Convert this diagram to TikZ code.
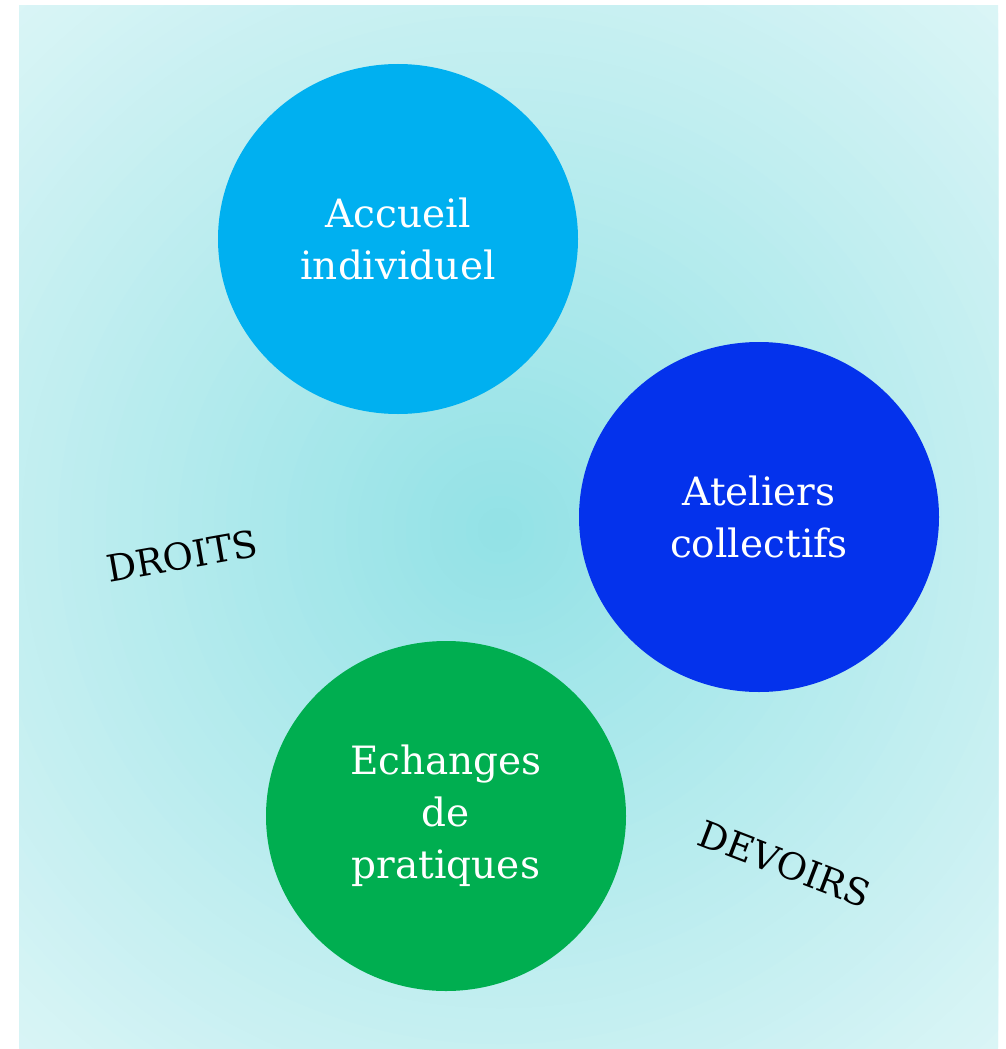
\documentclass[tikz,border=0pt]{standalone}
\usepackage{fontspec}
\setmainfont{DejaVu Serif}
\usetikzlibrary{shapes.geometric}

\definecolor{bginner}{HTML}{93E2E6}
\definecolor{bgouter}{HTML}{DBF5F6}
\definecolor{accueilblue}{HTML}{00B0F0}
\definecolor{atelierblue}{HTML}{0432EC}
\definecolor{echangegreen}{HTML}{00AE50}

\begin{document}
\begin{tikzpicture}[x=1pt,y=-1pt,
    bubble/.style={ellipse, minimum width=360pt, minimum height=350pt,
      inner sep=0pt, align=center, text=white,
      font=\fontsize{39}{52}\selectfont},
    side/.style={font=\fontsize{37}{44}\selectfont, text=black}]
  \useasboundingbox (0,0) rectangle (1005,1049);
  % soft radial glow behind the bubbles
  \begin{scope}
    \clip (19,6) rectangle (998,1048);
    \fill[bgouter] (19,6) rectangle (998,1048);
    \foreach \k in {0,...,60}{
      \pgfmathsetmacro{\rad}{730-12*\k}
      \pgfmathsetmacro{\mix}{100*\k/60}
      \fill[bginner!\mix!bgouter] (500,530) circle[radius=\rad];
    }
  \end{scope}

  \node[bubble, fill=accueilblue] (accueil) at (398,239) {Accueil\\individuel};
  \node[bubble, fill=atelierblue] (ateliers) at (759,517) {Ateliers\\collectifs};
  \node[bubble, fill=echangegreen] (echanges) at (446,816) {Echanges\\de\\pratiques};

  \node[side, rotate=10] (droits) at (182,556) {DROITS};
  \node[side, rotate=-21] (devoirs) at (785,864) {DEVOIRS};
\end{tikzpicture}
\end{document}
